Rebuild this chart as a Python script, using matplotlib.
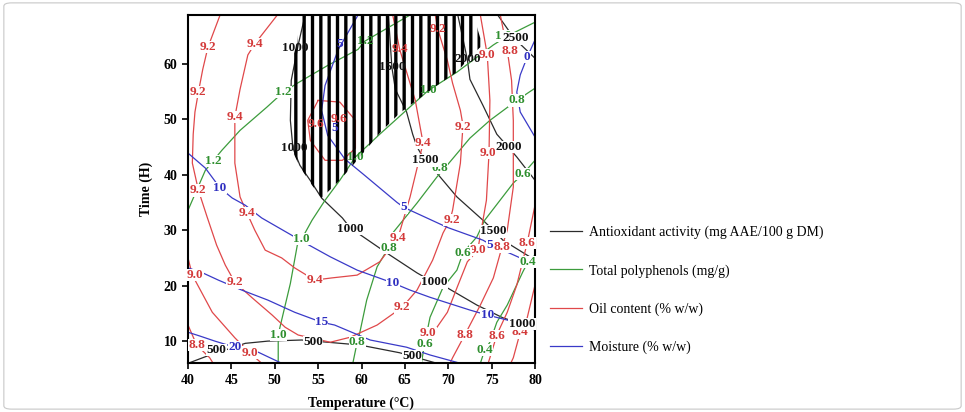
import numpy as np
import matplotlib
matplotlib.use("Agg")
import matplotlib.pyplot as plt
from matplotlib.patches import FancyBboxPatch
from matplotlib.path import Path

plt.rcParams['font.family'] = ['Liberation Serif', 'DejaVu Serif']
plt.rcParams['hatch.linewidth'] = 2.4

# contour traces as (temperature degC, time h)

# antioxidant activity (mg AAE/100 g DM)
aox_500 = [(40, 6.0), (42.2, 7.3), (46.6, 9.6), (49.2, 10.0), (53.1, 10.2), (59.8, 9.3),
           (64.4, 7.9), (68.7, 6.0)]
aox_1000 = [(53.5, 68.8), (52.7, 63.4), (51.9, 57.0), (51.8, 49.8), (52.1, 44.8), (52.9, 41.7),
            (54.3, 38.5), (55.4, 35.8), (57.8, 32.2), (58.7, 30.4), (60.2, 28.8), (62.9, 25.9),
            (66.4, 22.3), (68.2, 20.7), (69.9, 19.6), (73.3, 16.5), (76.3, 14.2), (78.5, 13.1),
            (80, 12.0)]
aox_1500 = [(63.1, 68.8), (63.5, 59.4), (63.9, 55.4), (65.2, 51.3), (65.9, 47.3), (66.4, 45.0),
            (67.3, 42.6), (68.2, 41.2), (71.0, 36.0), (74.0, 31.8), (75.2, 30.0), (76.3, 28.2),
            (79.4, 25.2), (80, 24.6)]
aox_2000 = [(71.1, 68.8), (72.2, 60.8), (72.5, 57.2), (74.0, 52.5), (75.6, 47.3), (76.9, 45.0),
            (77.9, 43.2), (79.8, 39.4), (80, 39.0)]
aox_2500 = [(75.7, 68.8), (77.6, 64.6), (80, 61.0)]
aox_labels = [(43.3, 8.4, '500'), (54.4, 9.8, '500'), (65.8, 7.3, '500'),
              (52.4, 62.8, '1000'), (52.3, 44.8, '1000'), (58.7, 30.2, '1000'),
              (68.4, 20.6, '1000'), (78.5, 13.1, '1000'),
              (63.5, 59.4, '1500'), (67.3, 42.6, '1500'), (75.2, 29.8, '1500'),
              (72.2, 60.8, '2000'), (77.0, 45.0, '2000'), (77.8, 64.6, '2500')]

# total polyphenols (mg/g)
tpc_12 = [(40, 33.6), (42.0, 40.8), (42.9, 42.5), (43.9, 44.4), (46.0, 48.0), (49.1, 52.2),
          (51.0, 54.9), (52.6, 56.5), (56.1, 59.7), (59.6, 62.6), (60.4, 64.1), (63.6, 67.0),
          (65.6, 68.8)]
tpc_10 = [(50.4, 6.0), (50.4, 11.1), (50.6, 12.5), (51.8, 20.4), (52.6, 27.3), (53.1, 28.4),
          (54.3, 31.8), (55.8, 35.4), (57.5, 39.0), (59.3, 43.2), (62.1, 47.3), (67.7, 55.2),
          (71.0, 58.5), (75.2, 63.4), (76.8, 65.0), (80, 67.5)]
tpc_08 = [(80, 55.6), (77.9, 53.4), (74.8, 49.8), (72.5, 46.6), (69.6, 41.2), (68.7, 39.6),
          (66.4, 34.9), (63.6, 29.5), (63.1, 26.8), (61.8, 23.4), (60.6, 17.4), (59.8, 11.5),
          (59.5, 9.8), (59.0, 6.0)]
tpc_06 = [(80, 42.6), (78.6, 40.1), (77.5, 38.5), (74.2, 31.8), (73.3, 28.8), (71.7, 25.9),
          (71.0, 22.8), (69.4, 19.7), (67.9, 14.3), (67.3, 9.7), (66.9, 6.0)]
tpc_04 = [(80, 25.5), (79.2, 24.3), (78.6, 22.5), (76.8, 16.5), (75.6, 13.4), (74.8, 9.8),
          (74.2, 8.4), (73.7, 6.0)]
tpc_labels = [(42.9, 42.5, '1.2'), (51.0, 54.9, '1.2'), (60.4, 64.1, '1.2'),
              (50.4, 11.1, '1.0'), (53.1, 28.4, '1.0'), (59.3, 43.2, '1.0'),
              (67.7, 55.2, '1.0'), (76.3, 65.0, '1.0'),
              (77.9, 53.4, '0.8'), (69.0, 41.2, '0.8'), (63.1, 26.8, '0.8'), (59.5, 9.8, '0.8'),
              (78.6, 40.1, '0.6'), (71.7, 25.9, '0.6'), (67.3, 9.4, '0.6'),
              (79.2, 24.3, '0.4'), (74.2, 8.4, '0.4')]

# oil content (% w/w)
oil_96 = [(55.0, 53.4), (53.8, 49.8), (54.1, 46.2), (55.8, 42.6), (57.8, 42.6), (59.3, 44.8),
          (59.3, 49.8), (57.5, 53.1), (55.0, 53.4)]
oil_94 = [(50.3, 68.8), (47.7, 63.6), (46.9, 61.6), (46.0, 55.4), (45.4, 50.4), (45.4, 42.1),
          (46.0, 36.0), (46.8, 33.1), (47.7, 30.0), (48.9, 26.4), (50.8, 25.0), (52.3, 23.2),
          (54.6, 21.0), (56.6, 21.4), (59.5, 21.9), (62.1, 24.3), (64.2, 28.6), (65.6, 36.0),
          (67.1, 45.7), (66.2, 53.4), (64.4, 62.6), (63.6, 68.8)]
oil_92 = [(43.7, 68.8), (42.3, 63.0), (41.7, 59.0), (41.2, 54.9), (40.8, 51.3), (40.6, 47.3),
          (40.5, 42.1), (41.2, 37.2), (42.2, 32.4), (43.3, 27.3), (44.3, 23.7), (45.4, 20.6),
          (47.4, 17.8), (49.7, 14.7), (51.2, 12.5), (52.7, 11.1), (56.4, 9.8), (58.7, 10.7),
          (61.8, 12.9), (64.7, 16.1), (66.4, 19.2), (68.2, 24.6), (69.4, 29.5), (70.2, 31.8),
          (70.5, 33.6), (71.4, 42.1), (71.7, 48.9), (71.4, 51.6), (70.5, 56.5), (69.9, 60.6),
          (68.8, 66.2), (68.5, 68.8)]
oil_90_left = [(40, 25.0), (40.5, 21.9), (42.8, 15.2), (45.4, 10.6), (47.1, 7.9), (48.5, 6.0)]
oil_90_right = [(73.7, 68.8), (74.5, 61.6), (74.8, 53.4), (74.7, 43.9), (74.4, 35.4),
                (73.4, 26.4), (72.2, 24.3), (71.0, 19.6), (69.9, 15.2), (68.7, 12.5),
                (67.6, 11.1), (66.7, 7.5), (66.4, 6.0)]
oil_88_left = [(40, 12.9), (41.0, 9.3), (42.5, 7.0), (42.9, 6.0)]
oil_88_right = [(76.0, 68.8), (76.8, 62.5), (77.3, 57.0), (77.5, 49.8), (77.5, 37.8),
                (76.8, 30.0), (76.2, 27.0), (75.2, 21.4), (73.7, 16.5), (72.5, 12.9),
                (71.9, 11.1), (70.5, 7.0), (70.2, 6.0)]
oil_86 = [(80, 34.5), (79.1, 27.7), (77.9, 20.1), (76.8, 15.2), (76.0, 12.5), (75.6, 11.1),
          (74.8, 7.0), (74.6, 6.0)]
oil_84 = [(80, 20.1), (79.1, 14.2), (78.3, 11.6), (77.5, 7.0), (77.2, 6.0)]
oil_labels = [(54.8, 49.1, '9.6'), (57.4, 50.0, '9.6'),
              (47.7, 63.6, '9.4'), (45.4, 50.4, '9.4'), (46.8, 33.1, '9.4'), (54.6, 21.0, '9.4'),
              (64.2, 28.6, '9.4'), (67.1, 45.7, '9.4'), (64.4, 62.6, '9.4'),
              (42.3, 63.0, '9.2'), (41.2, 54.9, '9.2'), (41.2, 37.2, '9.2'), (45.4, 20.6, '9.2'),
              (64.7, 16.1, '9.2'), (70.4, 31.8, '9.2'), (71.7, 48.6, '9.2'), (68.8, 66.2, '9.2'),
              (40.8, 21.9, '9.0'), (47.1, 7.9, '9.0'), (74.5, 61.6, '9.0'), (74.6, 43.9, '9.0'),
              (73.4, 26.4, '9.0'), (67.7, 11.4, '9.0'),
              (41.0, 9.3, '8.8'), (77.1, 62.3, '8.8'), (76.2, 27.0, '8.8'), (71.9, 11.1, '8.8'),
              (79.1, 27.7, '8.6'), (75.6, 10.9, '8.6'), (78.3, 11.6, '8.4')]

# moisture (% w/w)
moi_0 = [(80, 64.3), (79.1, 61.2), (78.3, 58.0), (77.9, 54.9), (78.3, 51.3), (80, 46.8)]
moi_5 = [(59.6, 68.8), (57.3, 62.5), (55.8, 56.1), (55.4, 51.6), (56.1, 47.1), (58.1, 42.8),
         (60.2, 40.1), (64.1, 35.0), (64.9, 34.1), (69.9, 30.5), (74.0, 28.2), (75.0, 27.3),
         (78.3, 25.0), (80, 23.7)]
moi_10 = [(40, 43.9), (42.0, 41.2), (43.7, 37.6), (45.1, 35.8), (46.6, 34.5), (48.5, 32.2),
          (51.5, 29.5), (53.5, 27.7), (56.4, 25.2), (59.5, 22.8), (63.6, 20.5), (65.6, 19.2),
          (67.9, 17.9), (72.5, 15.6), (74.5, 14.7), (76.8, 13.8), (80, 12.0)]
moi_15 = [(40, 23.2), (41.7, 22.3), (43.5, 21.0), (46.2, 19.2), (49.2, 17.4), (52.3, 15.2),
          (55.4, 13.4), (56.9, 12.9), (61.0, 10.2), (65.2, 8.9), (67.9, 7.5), (71.4, 6.0)]
moi_20 = [(40, 11.6), (41.4, 10.9), (43.1, 10.0), (45.4, 8.9), (48.1, 8.0), (50.8, 6.0)]
moi_labels = [(79.1, 61.2, '0'), (57.5, 63.6, '5'), (56.9, 48.4, '5'), (64.9, 34.1, '5'),
              (74.8, 27.3, '5'), (43.7, 37.6, '10'), (63.6, 20.5, '10'), (74.5, 14.7, '10'),
              (55.4, 13.4, '15'), (45.4, 8.9, '20')]

# overlap (optimum) zone shaded with vertical bars
zone = [(52.9, 68.8), (72.9, 68.8), (73.7, 64.6), (73.7, 63.0), (72.5, 61.2), (71.0, 58.5),
        (68.7, 56.1), (64.4, 51.1), (62.1, 47.5), (59.5, 42.6), (57.5, 39.0), (55.4, 35.8),
        (54.3, 38.1), (52.9, 41.4), (52.0, 44.4), (51.8, 49.8), (51.8, 59.7), (52.6, 63.9)]

# name, line colour, label colour, contour lines, labels, label layer
series = [
    ('Antioxidant activity (mg AAE/100 g DM)', '#2b2b2b', '#111111',
     [aox_500, aox_1000, aox_1500, aox_2000, aox_2500], aox_labels, 6),
    ('Total polyphenols (mg/g)', '#3c9c3c', '#2f8f2f',
     [tpc_12, tpc_10, tpc_08, tpc_06, tpc_04], tpc_labels, 5),
    ('Oil content (% w/w)', '#e0484a', '#d33a3a',
     [oil_96, oil_94, oil_92, oil_90_left, oil_90_right, oil_88_left, oil_88_right,
      oil_86, oil_84], oil_labels, 4),
    ('Moisture (% w/w)', '#3a3ac8', '#2e2ec0',
     [moi_0, moi_5, moi_10, moi_15, moi_20], moi_labels, 5),
]

fig = plt.figure(figsize=(9.65, 4.12), dpi=100)
fig.patches.append(FancyBboxPatch((0.004, 0.007), 0.992, 0.986,
                                  boxstyle='round,pad=0,rounding_size=0.008',
                                  transform=fig.transFigure, fc='white', ec='#c8c8c8',
                                  lw=0.8, zorder=-10))
ax = fig.add_axes([188 / 965, 1 - 363.3 / 412, 347 / 965, 348.3 / 412])

zT, zt = np.array(zone).T
ax.fill(zT, zt, facecolor='none', edgecolor='black', hatch='||', linewidth=0, zorder=3)
zone_path = Path(np.column_stack([zT, zt]))

handles = []
for name, lc, tc, lines, labels, zl in series:
    for pts in lines:
        T, t = np.array(pts).T
        h, = ax.plot(T, t, color=lc, lw=0.9, zorder=2)
    handles.append((h, name))
    for T, t, s in labels:
        inside = zone_path.contains_point((T, t))
        bb = None if inside else dict(facecolor='white', edgecolor='none', pad=0.2)
        ax.text(T, t, s, color=tc, ha='center', va='center', fontsize=9.5,
                fontweight='bold', bbox=bb, zorder=zl)

ax.set_xlim(40, 80)
ax.set_ylim(6, 68.8)
ax.set_xticks(np.arange(40, 81, 5))
ax.set_yticks(np.arange(10, 61, 10))
ax.tick_params(direction='out', length=4, width=1.2, labelsize=10)
for lab in ax.get_xticklabels() + ax.get_yticklabels():
    lab.set_fontweight('bold')
for sp in ax.spines.values():
    sp.set_linewidth(1.5)
ax.set_xlabel('Temperature (°C)', fontsize=10, fontweight='bold', labelpad=7)
ax.set_ylabel('Time (H)', fontsize=10, fontweight='bold', labelpad=8)

fig.legend([h for h, n in handles], [n for h, n in handles], loc='center left',
           bbox_to_anchor=(550 / 965, 1 - 290 / 412), frameon=False, fontsize=10,
           handlelength=2.3, handletextpad=0.5, labelspacing=1.8,
           borderpad=0, borderaxespad=0)

fig.savefig('out.png', dpi=100)
